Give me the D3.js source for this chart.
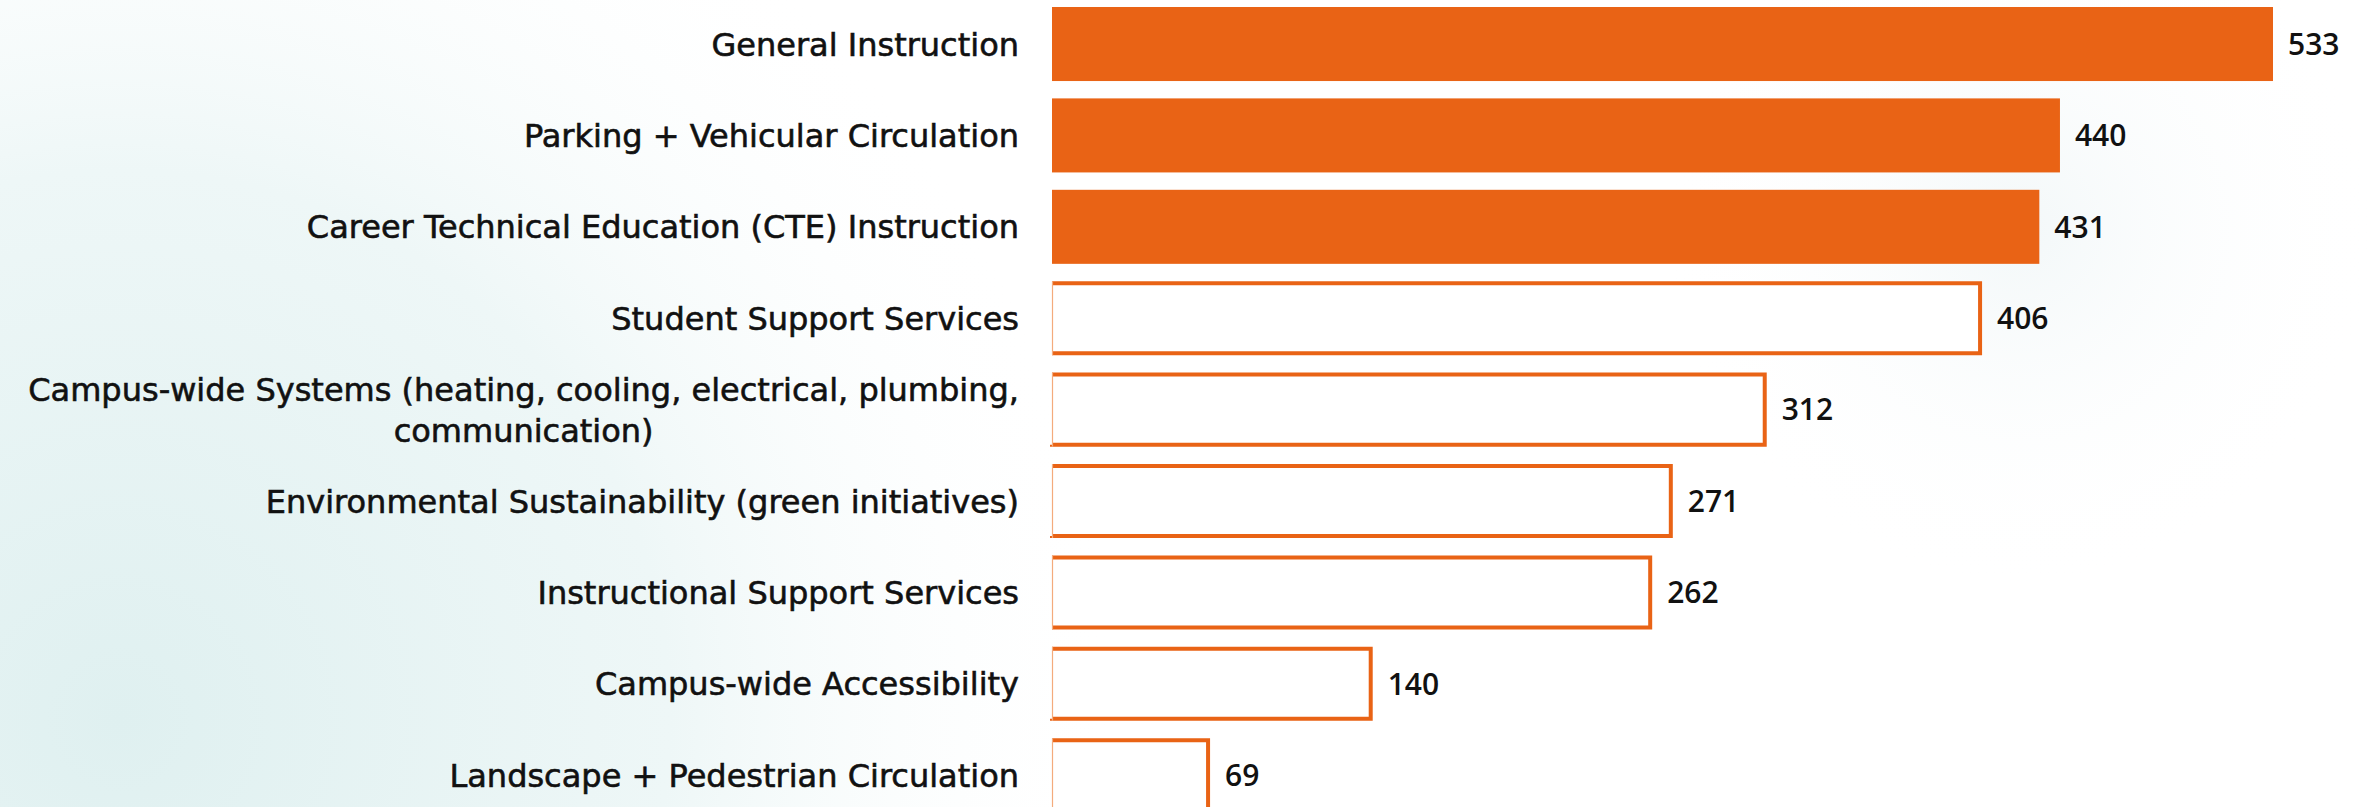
<!DOCTYPE html>
<html>
<head>
<meta charset="utf-8">
<script src="https://cdn.jsdelivr.net/npm/d3@7"></script>
<style>
    html, body { margin: 0; padding: 0; background: #ffffff; }
    svg { display: block; }
</style>
</head>
<body>
<div id="chart"></div>
<script>
// ! DATA ! //
const categories = [
    "General Instruction",
    "Parking + Vehicular Circulation",
    "Career Technical Education (CTE) Instruction",
    "Student Support Services",
    "Campus-wide Systems (heating, cooling, electrical, plumbing,\ncommunication)",
    "Environmental Sustainability (green initiatives)",
    "Instructional Support Services",
    "Campus-wide Accessibility",
    "Landscape + Pedestrian Circulation"
];
const votes = [533, 440, 431, 406, 312, 271, 262, 140, 69];
const highlighted = [true, true, true, false, false, false, false, false, false];

const W = 2369, H = 807;
const orange = "#e96315";
const barLeft = 1052;
const step = 91.4;

const svg = d3.select("#chart").append("svg").attr("width", W).attr("height", H);

// ^ BACKGROUND GLOW ^ //
const defs = svg.append("defs");
const g1 = defs.append("radialGradient").attr("id", "glowLeft")
    .attr("gradientUnits", "userSpaceOnUse").attr("cx", 120).attr("cy", 720).attr("r", 1000);
g1.append("stop").attr("offset", "0%").attr("stop-color", "#dff0f0");
g1.append("stop").attr("offset", "55%").attr("stop-color", "#eef7f7");
g1.append("stop").attr("offset", "100%").attr("stop-color", "#ffffff").attr("stop-opacity", 0);
const g2 = defs.append("radialGradient").attr("id", "glowRight")
    .attr("gradientUnits", "userSpaceOnUse").attr("cx", 2020).attr("cy", 230).attr("r", 360);
g2.append("stop").attr("offset", "0%").attr("stop-color", "#f3f8f9");
g2.append("stop").attr("offset", "100%").attr("stop-color", "#ffffff").attr("stop-opacity", 0);
svg.append("rect").attr("width", W).attr("height", H).attr("fill", "#ffffff");
svg.append("rect").attr("width", W).attr("height", H).attr("fill", "url(#glowLeft)");
svg.append("rect").attr("width", W).attr("height", H).attr("fill", "url(#glowRight)");

// ! SCALES ! //
const xScale = d3.scaleLinear().domain([0, 533]).range([barLeft, 2273]);
const r0 = 7 - step * 0.095;
const yScale = d3.scaleBand()
    .domain(categories)
    .range([r0, r0 + categories.length * step])
    .paddingInner(0.19)
    .paddingOuter(0.095);

const rows = categories.map((c, i) => ({ cat: c, value: votes[i], hi: highlighted[i] }));

// ! BARS ! //
const bars = svg.append("g").attr("class", "bars");
bars.selectAll("rect.filled")
    .data(rows.filter((d) => d.hi))
    .enter()
    .append("rect")
    .attr("class", "filled")
    .attr("x", xScale(0))
    .attr("y", (d) => yScale(d.cat))
    .attr("width", (d) => xScale(d.value) - xScale(0))
    .attr("height", yScale.bandwidth())
    .attr("fill", orange);

const sw = 4;
bars.selectAll("rect.outline")
    .data(rows.filter((d) => !d.hi))
    .enter()
    .append("rect")
    .attr("class", "outline")
    .attr("x", xScale(0))
    .attr("y", (d) => yScale(d.cat) + sw / 2)
    .attr("width", (d) => xScale(d.value) - xScale(0) - sw / 2)
    .attr("height", yScale.bandwidth() - sw)
    .attr("fill", "#ffffff")
    .attr("stroke", orange)
    .attr("stroke-width", sw)
    .attr("stroke-dasharray", (d) => {
        const w = xScale(d.value) - xScale(0) - sw / 2;
        const h = yScale.bandwidth() - sw;
        return `${2 * w + h} ${h}`;
    });
// thin left edge
bars.selectAll("line.edge")
    .data(rows.filter((d) => !d.hi))
    .enter()
    .append("line")
    .attr("x1", xScale(0) + 0.5)
    .attr("x2", xScale(0) + 0.5)
    .attr("y1", (d) => yScale(d.cat))
    .attr("y2", (d) => yScale(d.cat) + yScale.bandwidth())
    .attr("stroke", "#f4ab7c")
    .attr("stroke-width", 1.2);

// ! VALUE LABELS ! //
svg.append("g")
    .selectAll("text")
    .data(rows)
    .enter()
    .append("text")
    .attr("x", (d) => xScale(d.value) + 15)
    .attr("y", (d) => yScale(d.cat) + yScale.bandwidth() / 2)
    .attr("dy", "0.36em")
    .attr("font-family", "'Open Sans', sans-serif")
    .attr("font-weight", 600)
    .attr("font-size", 30)
    .attr("fill", "#111111")
    .text((d) => d.value);

// ! CATEGORY LABELS ! //
const labelX = barLeft - 33;
const labels = svg.append("g")
    .attr("font-family", "'DejaVu Sans', sans-serif")
    .attr("font-size", 32)
    .attr("fill", "#111111")
    .attr("stroke", "#111111")
    .attr("stroke-width", 0.6);

rows.forEach((d) => {
    const lines = d.cat.split("\n");
    const cy = yScale(d.cat) + yScale.bandwidth() / 2;
    const lh = 41;
    const t = labels.append("text")
        .attr("x", labelX)
        .attr("y", cy - ((lines.length - 1) * lh) / 2)
        .attr("dy", "0.36em")
        .attr("text-anchor", "end")
        .text(lines[0]);
    if (lines.length > 1) {
        const w = t.node().getComputedTextLength();
        labels.append("text")
            .attr("x", labelX - w / 2)
            .attr("y", cy + lh / 2)
            .attr("dy", "0.36em")
            .attr("text-anchor", "middle")
            .text(lines[1]);
    }
});
</script>
</body>
</html>
